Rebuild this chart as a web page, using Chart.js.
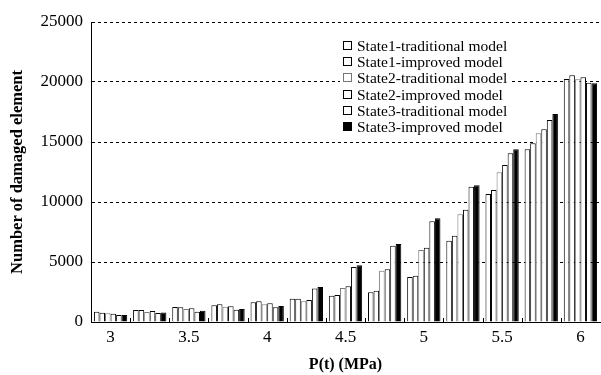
<!DOCTYPE html>
<html>
<head>
<meta charset="utf-8">
<script src="https://cdn.jsdelivr.net/npm/chart.js@4/dist/chart.umd.min.js"></script>
<style>
  html, body { margin: 0; padding: 0; background: #fff; }
  #wrap { position: relative; width: 601px; height: 375px; }
  #legend {
    position: absolute; left: 340px; top: 38px;
    background: #fff; padding: 0 3px;
    font-family: "Liberation Serif", serif; font-size: 15.5px; color: #000;
  }
  #legend div { height: 16.2px; line-height: 16.2px; white-space: nowrap; }
  #legend span.box {
    display: inline-block; width: 7px; height: 7px; margin-right: 5px;
    border: 1px solid #000; vertical-align: 1px;
  }
</style>
</head>
<body>
<div id="wrap">
  <canvas id="c" width="601" height="375"></canvas>
  <div id="legend"></div>
</div>
<script>
const pressures = ['3', '3.25', '3.5', '3.75', '4', '4.25', '4.5', '4.75', '5', '5.25', '5.5', '5.75', '6'];

const state1Traditional = [860, 1000, 1250, 1390, 1640, 1940, 2190, 2470, 3750, 6780, 10670, 14390, 20250];
const state1Improved    = [775, 1000, 1220, 1470, 1720, 1940, 2250, 2610, 3860, 7190, 11000, 14890, 20560];
const state2Traditional = [720, 830, 1080, 1280, 1470, 1720, 2830, 4280, 6000, 8970, 12470, 15720, 20220];
const state2Improved    = [690, 920, 1140, 1310, 1560, 1830, 2970, 4390, 6190, 9360, 13080, 16060, 20390];
const state3Traditional = [580, 750, 860, 1030, 1220, 2800, 4580, 6360, 8390, 11280, 14060, 16830, 19940];
const state3Improved    = [580, 800, 940, 1080, 1330, 2920, 4720, 6500, 8640, 11390, 14390, 17330, 19900];

const seriesNames = [
  'State1-traditional model',
  'State1-improved model',
  'State2-traditional model',
  'State2-improved model',
  'State3-traditional model',
  'State3-improved model',
];
const seriesValues = [state1Traditional, state1Improved, state2Traditional, state2Improved, state3Traditional, state3Improved];
const fills = ['#fff', '#fff', '#fff', '#fff', '#fff', '#000'];
const borders = ['#000', '#000', '#777', '#000', '#000', '#000'];

const serif = '"Liberation Serif", "Times New Roman", serif';

// small inward ticks between the groups
const groupTicks = {
  id: 'groupTicks',
  afterDraw(chart) {
    const x = chart.scales.x;
    const y0 = chart.chartArea.bottom;
    const ctx = chart.ctx;
    ctx.save();
    ctx.strokeStyle = '#000';
    ctx.lineWidth = 1;
    for (let i = 1; i < pressures.length; i++) {
      const px = Math.round((x.getPixelForTick(i - 1) + x.getPixelForTick(i)) / 2) + 0.5;
      ctx.beginPath();
      ctx.moveTo(px, y0);
      ctx.lineTo(px, y0 - 4);
      ctx.stroke();
    }
    ctx.restore();
  }
};

const datasets = seriesNames.map((name, i) => ({
  label: name,
  data: seriesValues[i],
  backgroundColor: fills[i],
  borderColor: borders[i],
  borderWidth: 1,
  barPercentage: 1,
  categoryPercentage: 0.85,
}));

new Chart(document.getElementById('c'), {
  type: 'bar',
  data: { labels: pressures, datasets },
  options: {
    responsive: false,
    animation: false,
    layout: { padding: { top: 22, right: 1, left: 0, bottom: 0 } },
    plugins: { legend: { display: false }, tooltip: { enabled: false } },
    scales: {
      x: {
        grid: { display: false, drawTicks: false },
        border: { color: '#000', width: 1 },
        ticks: {
          autoSkip: false, maxRotation: 0, padding: 5, color: '#000',
          font: { family: serif, size: 17 },
          callback: (v, i) => (i % 2 === 0 ? pressures[i] : ''),
        },
        title: {
          display: true, text: 'P(t) (MPa)', color: '#000',
          font: { family: serif, size: 16, weight: 'bold' },
          padding: { top: 0, bottom: 1 },
        },
        afterFit: s => { s.height = 53; },
      },
      y: {
        min: 0, max: 25000,
        grid: { color: '#000', drawTicks: false },
        border: { color: '#000', width: 1, dash: [3, 3] },
        ticks: {
          stepSize: 5000, padding: 8, color: '#000',
          font: { family: serif, size: 17 },
          callback: v => String(v),
        },
        title: {
          display: true, text: 'Number of damaged element', color: '#000',
          font: { family: serif, size: 16.5, weight: 'bold' },
          padding: { top: 8, bottom: 0 },
        },
        afterFit: s => { s.width = 91; },
      },
    },
  },
  plugins: [groupTicks],
});

const legend = document.getElementById('legend');
seriesNames.forEach((name, i) => {
  const row = document.createElement('div');
  const box = document.createElement('span');
  box.className = 'box';
  box.style.background = fills[i];
  box.style.borderColor = borders[i];
  row.appendChild(box);
  row.appendChild(document.createTextNode(name));
  legend.appendChild(row);
});
</script>
</body>
</html>
